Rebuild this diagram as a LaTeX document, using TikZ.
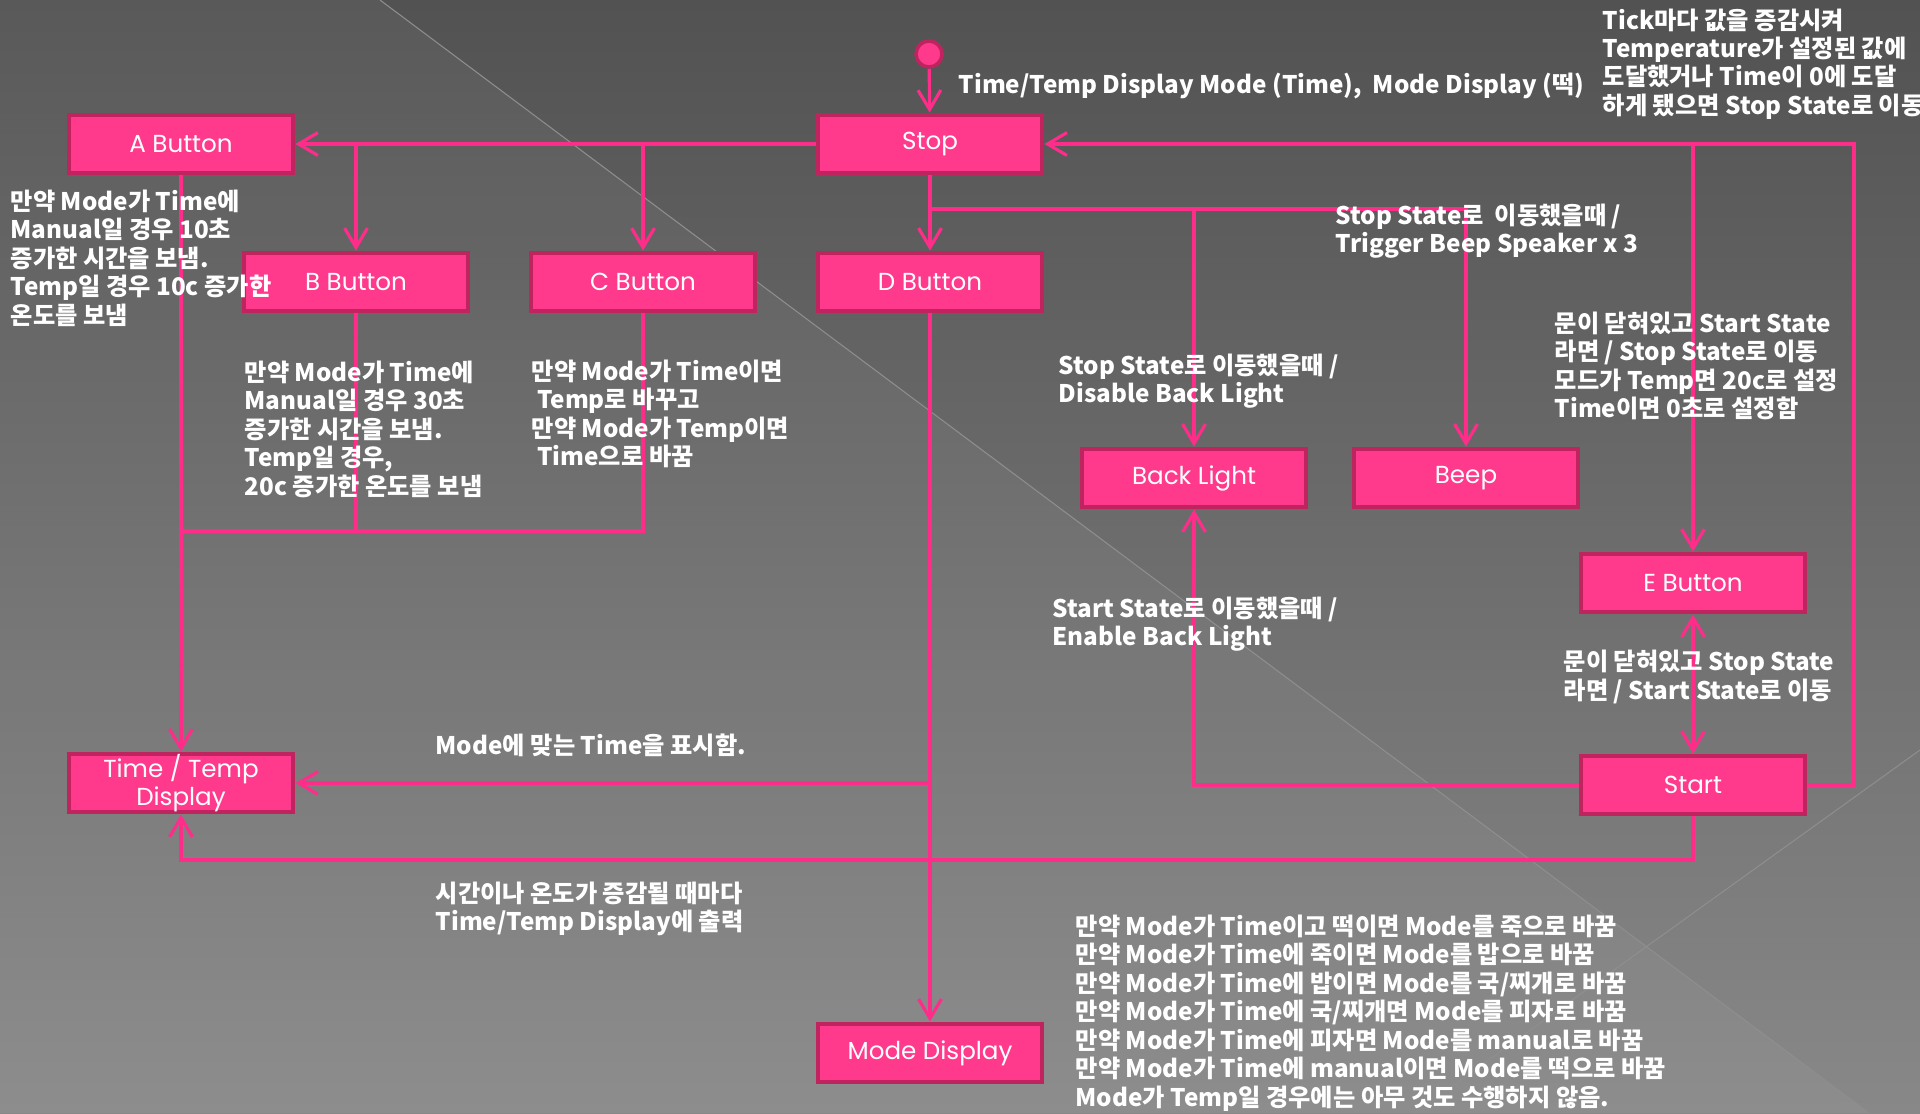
\documentclass[tikz,border=0pt]{standalone}
\usepackage{fontspec}
\newfontfamily\notefont{Noto Sans CJK KR}
\newfontfamily\boxfont{Poppins}
\usetikzlibrary{arrows.meta}
\definecolor{boxpink}{HTML}{FF3A8C}
\definecolor{boxedge}{HTML}{C0245F}
\definecolor{linepink}{HTML}{FF2D8A}
\definecolor{bgtop}{HTML}{525252}
\definecolor{bgbot}{HTML}{888888}
\definecolor{faint}{HTML}{8E8E8E}

\begin{document}
\begin{tikzpicture}[
  >={Straight Barb[length=5.5pt,width=6.5pt]},
  statebox/.style={draw=boxedge,fill=boxpink,line width=1.4pt,minimum width=2.24cm,minimum height=0.58cm,inner sep=0pt,text=white,align=center,font=\boxfont\fontsize{7}{8}\selectfont},
  flow/.style={draw=linepink,line width=0.9pt},
  note/.style={text=white,align=left,anchor=west,inner sep=0pt,font=\notefont\bfseries\fontsize{6.9}{8.1}\selectfont}
]
  % background
  \useasboundingbox (0,0) rectangle (19.2,-11.13);
  \shade[top color=bgtop,bottom color=bgbot] (0,0) rectangle (19.2,-11.13);
  \fill[white,opacity=0.045] (0,0) -- (3.80,0) -- (18.69,-11.13) -- (0,-11.13) -- cycle;
  \draw[faint,line width=0.3pt] (3.80,0) -- (18.69,-11.13);
  \draw[faint,line width=0.3pt] (19.2,-7.50) -- (14.15,-11.13);

  % states
  \node[circle,fill=boxpink,draw=boxedge,line width=1pt,minimum size=0.26cm,inner sep=0pt] (init) at (9.29,-0.54) {};
  \node[statebox] (stop) at (9.30,-1.44) {Stop};
  \node[statebox] (abtn) at (1.81,-1.44) {A Button};
  \node[statebox] (bbtn) at (3.56,-2.82) {B Button};
  \node[statebox] (cbtn) at (6.43,-2.82) {C Button};
  \node[statebox] (dbtn) at (9.30,-2.82) {D Button};
  \node[statebox] (blight) at (11.94,-4.78) {Back Light};
  \node[statebox] (beep) at (14.66,-4.78) {Beep};
  \node[statebox] (ebtn) at (16.93,-5.83) {E Button};
  \node[statebox] (start) at (16.93,-7.85) {Start};
  \node[statebox] (ttd) at (1.81,-7.83) {Time / Temp\\Display};
  \node[statebox] (mdisp) at (9.30,-10.53) {Mode Display};

  % transitions
  \draw[flow,->] (init) -- (stop);
  \draw[flow,->] (stop) -- (abtn);
  \coordinate (bfork) at (bbtn |- stop);
  \coordinate (cfork) at (cbtn |- stop);
  \draw[flow,->] (bfork) -- (bbtn);
  \draw[flow,->] (cfork) -- (cbtn);
  \draw[flow,->] (stop) -- (dbtn);
  \coordinate (sfork) at (9.30,-2.09);
  \draw[flow,->] (sfork) -| (blight);
  \draw[flow,->] (sfork) -| (beep);
  \draw[flow,->] (abtn) -- (ttd);
  \coordinate (bcjoin) at (1.81,-5.31);
  \draw[flow] (bbtn) |- (bcjoin);
  \draw[flow] (cbtn) |- (bcjoin);
  \draw[flow,->] (dbtn) -- (mdisp);
  \coordinate (dfork) at (ttd -| dbtn);
  \draw[flow,->] (dfork) -- (ttd);
  \draw[flow,->] (start) -| (blight);
  \coordinate (loop) at (18.54,-1.44);
  \draw[flow,->] (start) -| (loop) -- (stop);
  \coordinate (efork) at (ebtn |- stop);
  \draw[flow,->] (efork) -- (ebtn);
  \draw[flow,<->] (ebtn) -- (start);
  \coordinate (low) at (1.81,-8.60);
  \draw[flow,->] (start) |- (low) -- (ttd);

  % notes
  \node[note] (topnote) at (9.58,-0.86) {Time/Temp Display Mode (Time),~~Mode Display (떡)};
  \node[note] (ticknote) at (16.02,-0.64) {Tick마다 값을 증감시켜\\Temperature가 설정된 값에\\도달했거나 Time이 0에 도달\\하게 됐으면 Stop State로 이동};
  \node[note] (anote) at (0.10,-2.58) {만약 Mode가 Time에\\Manual일 경우 10초\\증가한 시간을 보냄.\\Temp일 경우 10c 증가한\\온도를 보냄};
  \node[note] (bnote) at (2.44,-4.29) {만약 Mode가 Time에\\Manual일 경우 30초\\증가한 시간을 보냄.\\Temp일 경우,\\20c 증가한 온도를 보냄};
  \node[note] (cnote) at (5.31,-4.14) {만약 Mode가 Time이면\\~Temp로 바꾸고\\만약 Mode가 Temp이면\\~Time으로 바꿈};
  \node[note] (beepnote) at (13.35,-2.31) {Stop State로~~이동했을때 /\\Trigger Beep Speaker x 3};
  \node[note] (enote) at (15.54,-3.66) {문이 닫혀있고 Start State\\라면 / Stop State로 이동\\모드가 Temp면 20c로 설정\\Time이면 0초로 설정함};
  \node[note] (offnote) at (10.58,-3.81) {Stop State로 이동했을때 /\\Disable Back Light};
  \node[note] (onnote) at (10.52,-6.24) {Start State로 이동했을때 /\\Enable Back Light};
  \node[note] (snote) at (15.63,-6.77) {문이 닫혀있고 Stop State\\라면 / Start State로 이동};
  \node[note] (shownote) at (4.35,-7.45) {Mode에 맞는 Time을 표시함.};
  \node[note] (outnote) at (4.35,-9.09) {시간이나 온도가 증감될 때마다\\Time/Temp Display에 출력};
  \node[note] (modenote) at (10.75,-10.13) {만약 Mode가 Time이고 떡이면 Mode를 죽으로 바꿈\\만약 Mode가 Time에 죽이면 Mode를 밥으로 바꿈\\만약 Mode가 Time에 밥이면 Mode를 국/찌개로 바꿈\\만약 Mode가 Time에 국/찌개면 Mode를 피자로 바꿈\\만약 Mode가 Time에 피자면 Mode를 manual로 바꿈\\만약 Mode가 Time에 manual이면 Mode를 떡으로 바꿈\\Mode가 Temp일 경우에는 아무 것도 수행하지 않음.};
\end{tikzpicture}
\end{document}
